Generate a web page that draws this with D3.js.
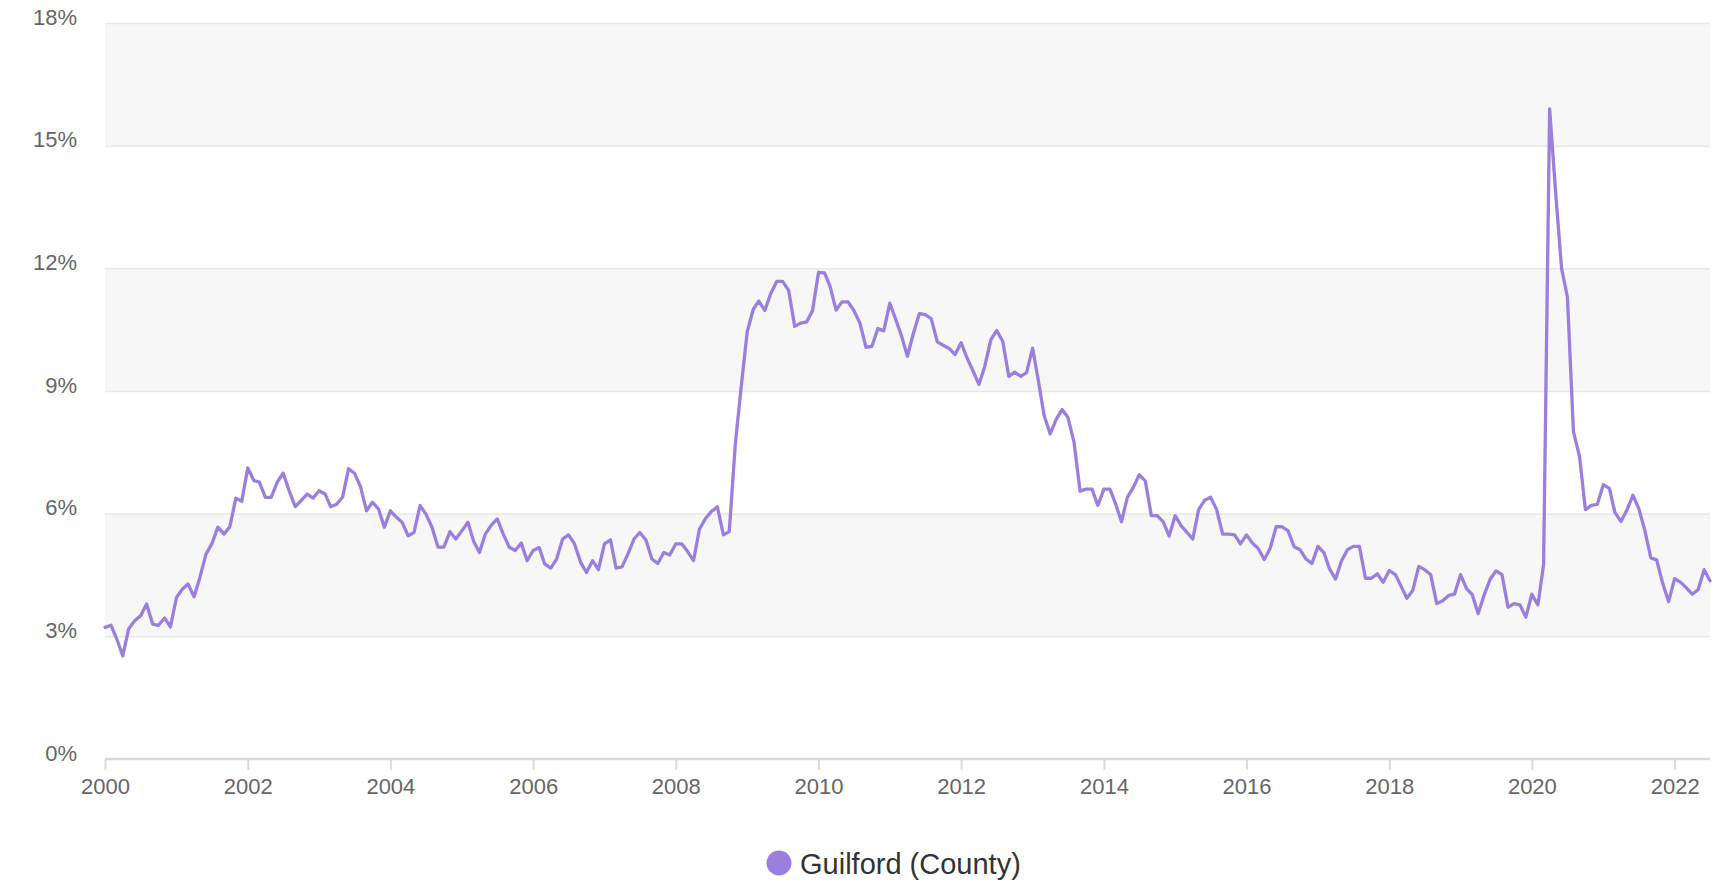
<!DOCTYPE html>
<html>
<head>
<meta charset="utf-8">
<script src="https://cdn.jsdelivr.net/npm/d3@7"></script>
<style>
  html, body { margin: 0; padding: 0; background: #ffffff; }
  svg { display: block; font-family: "Liberation Sans", Arial, Helvetica, sans-serif; }
</style>
</head>
<body>
<svg id="chart" width="1717" height="883"></svg>
<script>
// Monthly unemployment rate (%), Guilford County, starting January 2000
const seriesName = "Guilford (County)";
const startYear = 2000;
const rates = [
  3.22, 3.27, 2.94, 2.52, 3.18, 3.38, 3.50, 3.79, 3.30, 3.27, 3.45, 3.23,   // 2000
  3.95, 4.16, 4.28, 3.97, 4.44, 5.01, 5.26, 5.67, 5.50, 5.68, 6.38, 6.30,   // 2001
  7.12, 6.81, 6.77, 6.40, 6.40, 6.77, 6.99, 6.56, 6.17, 6.32, 6.48, 6.38,   // 2002
  6.56, 6.48, 6.17, 6.23, 6.40, 7.10, 6.99, 6.66, 6.07, 6.28, 6.12, 5.67,   // 2003
  6.07, 5.91, 5.79, 5.46, 5.54, 6.20, 5.99, 5.67, 5.18, 5.18, 5.56, 5.38,   // 2004
  5.58, 5.79, 5.34, 5.05, 5.50, 5.72, 5.87, 5.50, 5.18, 5.10, 5.28, 4.85,   // 2005
  5.10, 5.17, 4.77, 4.67, 4.89, 5.38, 5.48, 5.26, 4.81, 4.56, 4.85, 4.63,   // 2006
  5.26, 5.36, 4.67, 4.70, 5.01, 5.38, 5.54, 5.36, 4.89, 4.78, 5.05, 4.99,   // 2007
  5.26, 5.26, 5.08, 4.85, 5.62, 5.88, 6.05, 6.17, 5.48, 5.56, 7.70, 9.10,   // 2008
  10.45, 11.00, 11.20, 10.97, 11.38, 11.68, 11.68, 11.46, 10.58, 10.66, 10.69, 10.96, // 2009
  11.90, 11.89, 11.56, 10.98, 11.18, 11.18, 10.97, 10.66, 10.07, 10.09, 10.53, 10.47, // 2010
  11.15, 10.74, 10.36, 9.85, 10.40, 10.89, 10.87, 10.77, 10.20, 10.12, 10.04, 9.89,   // 2011
  10.18, 9.80, 9.50, 9.16, 9.60, 10.25, 10.48, 10.22, 9.36, 9.46, 9.36, 9.45,         // 2012
  10.05, 9.21, 8.40, 7.95, 8.30, 8.55, 8.35, 7.75, 6.55, 6.60, 6.60, 6.20,   // 2013
  6.60, 6.60, 6.25, 5.80, 6.40, 6.65, 6.95, 6.80, 5.95, 5.95, 5.80, 5.45,   // 2014
  5.95, 5.70, 5.55, 5.38, 6.10, 6.33, 6.40, 6.10, 5.50, 5.50, 5.48, 5.26,   // 2015
  5.48, 5.28, 5.15, 4.88, 5.15, 5.68, 5.68, 5.58, 5.19, 5.12, 4.89, 4.78,   // 2016
  5.20, 5.04, 4.65, 4.40, 4.84, 5.12, 5.20, 5.20, 4.42, 4.42, 4.53, 4.32,   // 2017
  4.61, 4.51, 4.24, 3.93, 4.12, 4.71, 4.63, 4.51, 3.80, 3.87, 4.00, 4.03,   // 2018
  4.51, 4.16, 4.03, 3.56, 4.00, 4.39, 4.60, 4.51, 3.71, 3.80, 3.77, 3.47,   // 2019
  4.03, 3.77, 4.75, 15.90, 13.90, 12.00, 11.30, 8.00, 7.40, 6.10, 6.20, 6.23, // 2020
  6.71, 6.62, 6.03, 5.81, 6.08, 6.45, 6.13, 5.60, 4.92, 4.87, 4.29, 3.85,   // 2021
  4.41, 4.32, 4.19, 4.03, 4.14, 4.63, 4.36                                   // 2022
];
const yTicks = [0, 3, 6, 9, 12, 15, 18];
const xTickYears = [2000, 2002, 2004, 2006, 2008, 2010, 2012, 2014, 2016, 2018, 2020, 2022];

const lineColor = "#9b7fdf";

const data = rates.map((v, i) => ({ date: new Date(Date.UTC(startYear, i, 1)), value: v }));

const svg = d3.select("#chart");
const plot = { left: 105, right: 1710, top: 23, bottom: 759 };

const x = d3.scaleUtc()
  .domain(d3.extent(data, d => d.date))
  .range([plot.left, plot.right]);

const y = d3.scaleLinear()
  .domain([0, 18])
  .range([plot.bottom, plot.top]);

// alternating horizontal bands
const bandStarts = yTicks.slice(0, -1).filter((t, i) => i % 2 === 1);
svg.append("g").selectAll("rect")
  .data(bandStarts)
  .join("rect")
  .attr("x", plot.left)
  .attr("width", plot.right - plot.left)
  .attr("y", d => y(d + 3))
  .attr("height", d => y(d) - y(d + 3))
  .attr("fill", "#f7f7f7");

// horizontal grid lines + y labels
const yAxis = d3.axisLeft(y)
  .tickValues(yTicks)
  .tickSize(-(plot.right - plot.left))
  .tickPadding(28)
  .tickFormat(d => d + "%");

const gy = svg.append("g")
  .attr("transform", `translate(${plot.left},0)`)
  .call(yAxis);
gy.select(".domain").remove();
gy.selectAll(".tick line")
  .attr("stroke", "#e8e8e8")
  .attr("stroke-width", 1.5)
  .filter(d => d === 0).remove();
gy.selectAll(".tick text")
  .attr("fill", "#666666")
  .attr("font-size", 22)
  .attr("dy", "0.05em");

// x axis
const xAxis = d3.axisBottom(x)
  .tickValues(xTickYears.map(yr => new Date(Date.UTC(yr, 0, 1))))
  .tickSize(11)
  .tickPadding(8)
  .tickFormat(d3.utcFormat("%Y"));

const gx = svg.append("g")
  .attr("transform", `translate(0,${plot.bottom})`)
  .call(xAxis);
gx.select(".domain")
  .attr("stroke", "#dadada")
  .attr("stroke-width", 2.5)
  .attr("d", `M${plot.left},0H${plot.right}`);
gx.selectAll(".tick line")
  .attr("stroke", "#dadada")
  .attr("stroke-width", 2);
gx.selectAll(".tick text")
  .attr("fill", "#666666")
  .attr("font-size", 22);

// series line
const line = d3.line()
  .x(d => x(d.date))
  .y(d => y(d.value));

svg.append("path")
  .datum(data)
  .attr("fill", "none")
  .attr("stroke", lineColor)
  .attr("stroke-width", 3.3)
  .attr("stroke-linejoin", "round")
  .attr("stroke-linecap", "round")
  .attr("d", line);

// legend
const legend = svg.append("g").attr("transform", "translate(779,863)");
legend.append("circle")
  .attr("r", 12.5)
  .attr("fill", lineColor);
legend.append("text")
  .attr("x", 21)
  .attr("y", 10.5)
  .attr("font-size", 29)
  .attr("fill", "#333333")
  .text(seriesName);
</script>
</body>
</html>
